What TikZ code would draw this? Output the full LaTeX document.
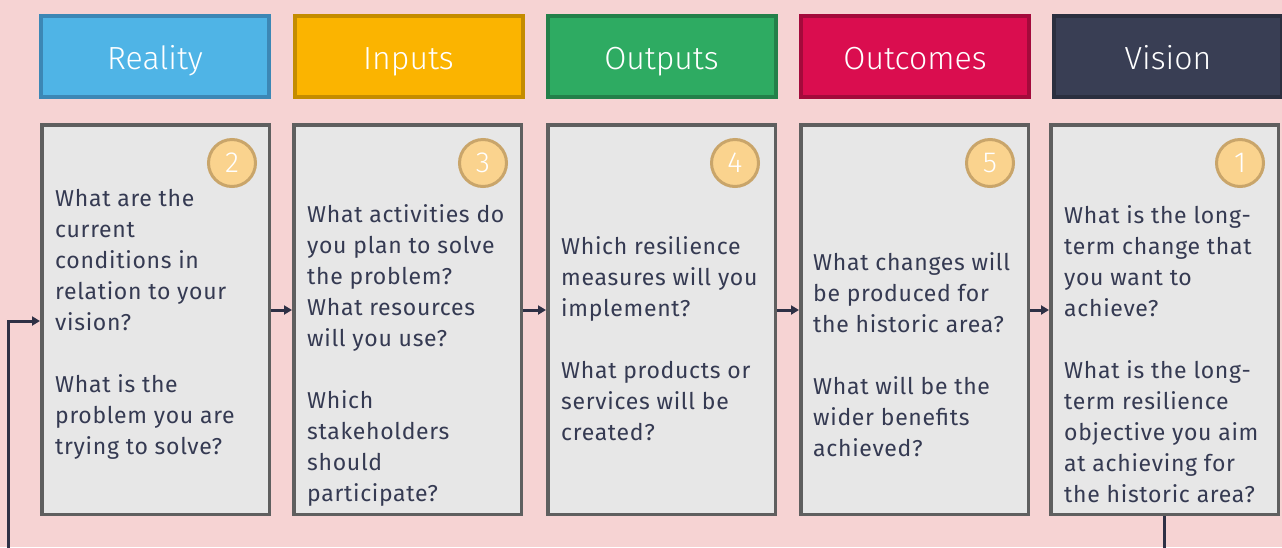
\documentclass[tikz,border=0pt]{standalone}
\usepackage{fontspec}
\setmainfont{Fira Sans}[LetterSpace=3]
\newfontfamily\hdrfont{Fira Sans Light}
\usetikzlibrary{arrows.meta}
\definecolor{bg}{HTML}{F6D3D3}
\definecolor{realfill}{HTML}{4FB4E6}\definecolor{realdraw}{HTML}{3C87B5}
\definecolor{inpfill}{HTML}{FBB400}\definecolor{inpdraw}{HTML}{C48C00}
\definecolor{outfill}{HTML}{2EAB62}\definecolor{outdraw}{HTML}{238049}
\definecolor{ocfill}{HTML}{DA0D4F}\definecolor{ocdraw}{HTML}{A30A3B}
\definecolor{visfill}{HTML}{393E54}\definecolor{visdraw}{HTML}{2B2F3F}
\definecolor{cardfill}{HTML}{E7E7E7}\definecolor{carddraw}{HTML}{5F5F5F}
\definecolor{numfill}{HTML}{FAD38E}\definecolor{numdraw}{HTML}{C9A56A}
\definecolor{txt}{HTML}{353A52}
\definecolor{linkc}{HTML}{2E3045}
\begin{document}
\begin{tikzpicture}[x=1pt,y=-1pt,
 hdr/.style={draw, line width=4pt, minimum width=228pt, minimum height=81pt, inner sep=0pt, text height=25pt, text depth=0pt, text=white, font=\hdrfont\fontsize{32}{36}\selectfont},
 card/.style={draw=carddraw, fill=cardfill, line width=3.5pt, minimum width=227.5pt, minimum height=389.5pt, inner sep=0pt},
 num/.style={circle, draw=numdraw, fill=numfill, line width=3pt, minimum size=47pt, inner sep=0pt, text=white, font=\hdrfont\fontsize{29}{29}\selectfont},
 body/.style={anchor=north west, inner sep=0pt, align=left, text=txt, font=\fontsize{23}{31}\selectfont},
 link/.style={draw=linkc, line width=3pt, -{Triangle[length=8pt,width=9pt]}}]
\fill[bg] (0,0) rectangle (1282,547);
\useasboundingbox (0,0) rectangle (1282,547);

% headers
\node[hdr, fill=realfill, draw=realdraw] (h1) at (155,56.5) {Reality};
\node[hdr, fill=inpfill, draw=inpdraw] (h2) at (408.5,56.5) {Inputs};
\node[hdr, fill=outfill, draw=outdraw] (h3) at (661.5,56.5) {Outputs};
\node[hdr, fill=ocfill, draw=ocdraw] (h4) at (915,56.5) {Outcomes};
\node[hdr, fill=visfill, draw=visdraw] (h5) at (1168,56.5) {Vision};

% cards
\node[card] (c1) at (155.5,319.5) {};
\node[card] (c2) at (407.5,319.5) {};
\node[card] (c3) at (661.5,319.5) {};
\node[card] (c4) at (914.5,319.5) {};
\node[card] (c5) at (1164.5,319.5) {};

% numbers
\node[num] (n1) at (232,163) {2};
\node[num] (n2) at (483,163) {3};
\node[num] (n3) at (735,163) {4};
\node[num] (n4) at (990,163) {5};
\node[num] (n5) at (1240,163) {1};

% texts
\node[body] (t1) at (55,189.5) {What are the\\ current\\ conditions in\\ relation to your\\ vision?\\[31pt] What is the\\ problem you are\\ trying to solve?};
\node[body] (t2) at (307,204.5) {What activities do\\ you plan to solve\\ the problem?\\ What resources\\ will you use?\\[31pt] Which\\ stakeholders\\ should\\ participate?};
\node[body] (t3) at (561,236.5) {Which resilience\\ measures will you\\ implement?\\[31pt] What products or\\ services will be\\ created?};
\node[body] (t4) at (813,252.5) {What changes will\\ be produced for\\ the historic area?\\[31pt] What will be the\\ wider benefits\\ achieved?};
\node[body] (t5) at (1064,205.5) {What is the long-\\ term change that\\ you want to\\ achieve?\\[31pt] What is the long-\\ term resilience\\ objective you aim\\ at achieving for\\ the historic area?};

% arrows
\draw[link] ([yshift=9.5pt]c1.east) -- ([yshift=9.5pt]c2.west);
\draw[link] ([yshift=9.5pt]c2.east) -- ([yshift=9.5pt]c3.west);
\draw[link] ([yshift=9.5pt]c3.east) -- ([yshift=9.5pt]c4.west);
\draw[link] ([yshift=9.5pt]c4.east) -- ([yshift=9.5pt]c5.west);

% feedback loop
\coordinate (lbr) at (1164.5,575);
\coordinate (lbl) at (8,575);
\draw[link] (c5.south) -- (lbr) -- (lbl) |- ([yshift=-1.5pt]c1.west);
\end{tikzpicture}
\end{document}
